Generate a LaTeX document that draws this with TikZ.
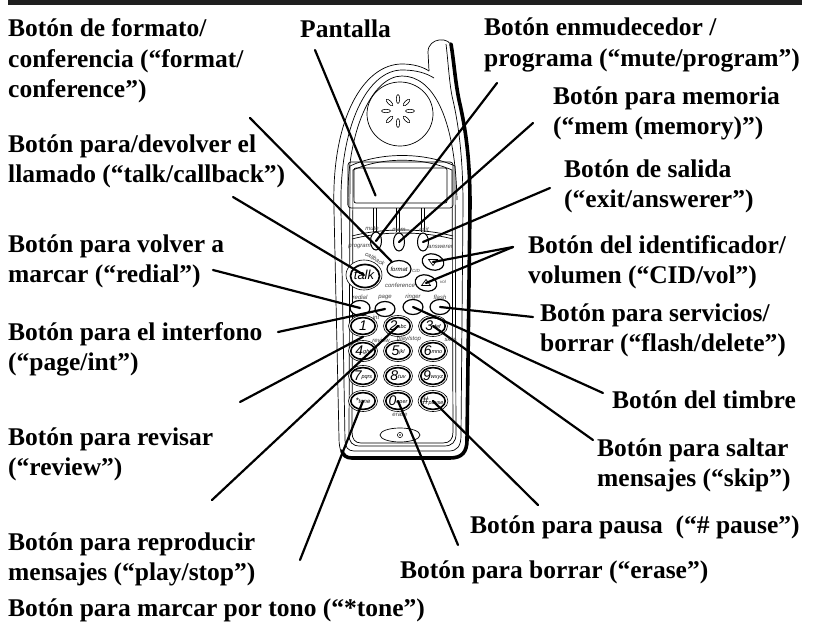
\documentclass[tikz,border=0pt]{standalone}
\usepackage{fontspec}
\setmainfont{Liberation Serif}
\newfontfamily\phonefont{Liberation Sans}
\usetikzlibrary{shapes.geometric,calc}

% multi-line callout text, baseline at the first line
\newcommand\lbltext[1]{\begin{tabular}[t]{@{}l@{}}#1\end{tabular}}
% small italic print on the handset
\newcommand\phsmall{\phonefont\itshape\fontsize{6}{7}\selectfont}
% keypad face: big digit followed by small letters
\newcommand\keyface[2]{{\fontsize{14}{14}\selectfont #1}{\fontsize{5.5}{6}\selectfont\raisebox{2.5pt}{#2}}}

\tikzset{
  lbl/.style={anchor=base west, inner sep=0pt, font=\bfseries\fontsize{25.5}{30.5}\selectfont},
  leader/.style={line width=2.2pt, line cap=round},
  body/.style={line width=0.7pt},
  rimline/.style={line width=3.6pt, line cap=round, line join=round},
  smalltext/.style={inner sep=0pt, font=\phsmall, text=black!75},
  microtext/.style={inner sep=0pt, font=\phonefont\itshape\fontsize{4.5}{5}\selectfont, text=black!75},
  softkey/.style={ellipse, draw, line width=1pt, fill=white, minimum width=11pt, minimum height=18pt, inner sep=0pt},
  smallbtn/.style={ellipse, draw, line width=1.2pt, fill=white, minimum width=20pt, minimum height=15pt, inner sep=0pt},
  cidbtn/.style={ellipse, draw, line width=1.2pt, fill=white, minimum width=22pt, minimum height=16pt, inner sep=0pt},
  fmtkey/.style={ellipse, draw, line width=1.2pt, fill=white, minimum width=24pt, minimum height=17pt, inner sep=0pt, font=\phsmall},
  talkkey/.style={ellipse, draw, line width=0.6pt, fill=white, minimum width=36pt, minimum height=30pt, inner sep=0pt,
    font=\phonefont\itshape\fontsize{13}{13}\selectfont,
    path picture={\draw[line width=1.7pt] ([shift={(1pt,-1pt)}]path picture bounding box.center) ellipse [x radius=14.5pt, y radius=11.5pt];}},
  keybtn/.style={ellipse, draw, line width=0.6pt, fill=white, minimum width=29pt, minimum height=21pt, inner sep=0pt,
    font=\phonefont\itshape,
    path picture={\draw[line width=1.6pt] (path picture bounding box.center) ellipse [x radius=12.2pt, y radius=8.4pt];}},
}

\begin{document}
\begin{tikzpicture}[x=1pt,y=-1pt]
\useasboundingbox (0,0) rectangle (814,626);

% heading rule
\fill[black!88] (8,0) rectangle (802,5);

% ---------- handset ----------
\begin{scope}[body]
  % outer contour, left side and head
  \draw (349,458) .. controls (342,457) and (339,450) .. (339,438) -- (334,210)
        .. controls (331,118) and (364,64) .. (402,64) .. controls (414,64) and (423,67) .. (429,71);
  % antenna
  \draw (429,71) -- (428,52) .. controls (428,37) and (451,36) .. (452,48);
  % second contour
  \draw (446,44) .. controls (448,60) and (449,80) .. (452,96) .. controls (459,125) and (463,160) .. (463,205)
        -- (461,436) .. controls (461,446) and (457,451) .. (449,451) -- (354,451)
        .. controls (348,451) and (345,447) .. (345,440) -- (341,210)
        .. controls (339,125) and (368,70) .. (402,70) .. controls (416,70) and (426,73) .. (434,78);
  % third head arc
  \draw (348,205) .. controls (346,132) and (372,76) .. (402,76) .. controls (432,76) and (455,115) .. (457,200);
  % face panel (double line)
  \draw (350,166) .. controls (380,152) and (424,152) .. (455,166) -- (456,434)
        .. controls (456,442) and (452,446) .. (444,446) -- (360,446)
        .. controls (352,446) and (349,442) .. (349,434) -- cycle;
  \draw (353,170) .. controls (382,157) and (422,157) .. (452,170) -- (453,432)
        .. controls (453,439) and (450,443) .. (443,443) -- (361,443)
        .. controls (355,443) and (352,439) .. (352,432) -- cycle;
  % band above the keys
  \draw (352,236) .. controls (382,228) and (422,228) .. (453,236);
  \draw (352,239) .. controls (382,231) and (422,231) .. (453,239);
\end{scope}
% heavy rim on the right and at the bottom
\draw[rimline] (451,44) .. controls (454,62) and (455,80) .. (459,100) .. controls (466,130) and (470,160) .. (470,205)
      -- (467,440) .. controls (467,452) and (462,458) .. (450,458) -- (352,458)
      .. controls (346,458) and (343,455) .. (342,451);

% earpiece
\node[ellipse, draw, body, minimum width=66pt, minimum height=64pt, inner sep=0pt] (spk) at (400,114) {};
\foreach \a in {0,45,...,315}{
  \path (398,111) ++(\a:12) coordinate (slot);
  \draw[line width=0.6pt, rotate around={-\a:(slot)}] (slot) ellipse [x radius=4.5pt, y radius=1.7pt];
}

% display
\draw[body, rounded corners=3pt] (348,162) rectangle (453,208);
\node[draw, body, rounded corners=2pt, minimum width=93pt, minimum height=35pt, inner sep=0pt] (screen) at (400.5,185.5) {};
\foreach \x in {375,398,423}{
  \draw[body] (\x-1.5,208) -- (\x-1.5,232);
  \draw[body] (\x+1.5,208) -- (\x+1.5,232);
}

% soft keys
\node[smalltext] at (372,229) {mute};
\node[smalltext] at (399,230) {mem};
\node[smalltext] at (424,229) {exit};
\node[softkey] (soft1) at (376,241) {};
\node[softkey] (soft2) at (399,242) {};
\node[softkey] (soft3) at (423,242) {};
\node[smalltext, anchor=east] at (371,247) {program};
\node[smalltext, anchor=west] at (428,247) {answerer};

% talk / format / caller id
\node[talkkey] (talk) at (364,275) {talk};
\node[smalltext, rotate=-30] at (375,259) {callback};
\node[fmtkey] (fmtbtn) at (399,269) {format};
\node[smalltext] at (400,285) {conference};
\node[cidbtn, rotate=-15] (cidd) at (433,262) {};
\node[cidbtn, rotate=-15] (cidu) at (426,283) {};
\draw[line width=0.7pt] ($(cidd.center)+(-4.5,-2.5)$) -- ++(9,0) -- ++(-4.5,6) -- cycle;
\draw[line width=0.7pt] ($(cidu.center)+(-4.5,2.5)$) -- ++(9,0) -- ++(-4.5,-6) -- cycle;
\node[microtext] at (416,271) {CID};
\node[microtext] at (443,282) {vol};

% function row
\node[smalltext] at (360,297) {redial};
\node[smalltext] at (385,298) {page};
\node[smalltext] at (413,297) {ringer};
\node[smalltext] at (440,297) {flash};
\node[smallbtn] (redial) at (360,308) {};
\node[smallbtn] (page) at (385,309) {};
\node[smallbtn] (ringer) at (413,307) {};
\node[smallbtn] (flash) at (440,307) {};
\node[smalltext] at (376,317) {int};

% keypad
\node[keybtn] (k1) at (363,326) {\keyface{1}{}};
\node[keybtn] (k2) at (398,326) {\keyface{2}{abc}};
\node[keybtn] (k3) at (433,326) {\keyface{3}{def}};
\node[smalltext] at (381,340) {review};
\node[smalltext] at (409,339) {play/stop};
\node[smalltext] at (450,340) {skip};
\node[keybtn] (k4) at (363,351) {\keyface{4}{ghi}};
\node[keybtn] (k5) at (398,351) {\keyface{5}{jkl}};
\node[keybtn] (k6) at (433,351) {\keyface{6}{mno}};
\node[keybtn] (k7) at (363,376) {\keyface{7}{pqrs}};
\node[keybtn] (k8) at (398,376) {\keyface{8}{tuv}};
\node[keybtn] (k9) at (433,376) {\keyface{9}{wxyz}};
\node[keybtn] (kstar) at (363,401) {{\fontsize{8}{8}\selectfont *}{\fontsize{6}{6}\selectfont tone}};
\node[keybtn] (k0) at (398,401) {\keyface{0}{oper}};
\node[keybtn] (khash) at (433,401) {{\fontsize{11}{11}\selectfont\#}{\fontsize{5.5}{6}\selectfont pause}};
\node[smalltext] at (400,415) {erase};

% microphone
\node[ellipse, draw, body, fill=white, minimum width=40pt, minimum height=14pt, inner sep=0pt] (mic) at (400,435) {};
\draw[line width=0.5pt] (mic.center) circle [radius=2.6pt];
\fill (mic.center) circle [radius=0.9pt];

% ---------- callout ends ----------
\coordinate (fmtE)    at (250,118);
\coordinate (pantE)   at (315,50);
\coordinate (muteE)   at (497,83);
\coordinate (memE)    at (533,123);
\coordinate (exitE)   at (550,188);
\coordinate (cidE)    at (513,247);
\coordinate (flashE)  at (533,317);
\coordinate (ringE)   at (603,393);
\coordinate (skipE)   at (593,440);
\coordinate (pauseE)  at (538,505);
\coordinate (eraseE)  at (458,545);
\coordinate (toneE)   at (300,560);
\coordinate (talkE)   at (233,197);
\coordinate (redialE) at (213,270);
\coordinate (pageE)   at (278,332);
\coordinate (reviewE) at (240,402);
\coordinate (playE)   at (212,500);

\draw[leader] (fmtE) -- (fmtbtn);
\draw[leader] (pantE) -- ($(screen.center)+(-25,10)$);
\draw[leader] (muteE) -- (soft1.center);
\draw[leader] (memE) -- (soft2.center);
\draw[leader] (exitE) -- (soft3.center);
\draw[leader] (cidE) -- (cidd.center);
\draw[leader] (cidE) -- (cidu.center);
\draw[leader] (flashE) -- (flash.center);
\draw[leader] (ringE) -- (ringer.center);
\draw[leader] (skipE) -- (k3.center);
\draw[leader] (pauseE) -- (khash.center);
\draw[leader] (eraseE) -- (k0.center);
\draw[leader] (toneE) -- (kstar.center);
\draw[leader] (talkE) -- (talk.center);
\draw[leader] (redialE) -- (redial.center);
\draw[leader] (pageE) -- (page.center);
\draw[leader] (reviewE) -- (k1.south);
\draw[leader] (playE) -- (k2.center);

% ---------- callouts ----------
\node[lbl] (lfmt)    at (8,37)    {\lbltext{Botón de formato/\\conferencia (“format/\\conference”)}};
\node[lbl] (lpant)   at (300,38)  {Pantalla};
\node[lbl] (lmute)   at (484,36)  {\lbltext{Botón enmudecedor /\\programa (“mute/program”)}};
\node[lbl] (lmem)    at (553,104) {\lbltext{Botón para memoria\\(“mem (memory)”)}};
\node[lbl] (lexit)   at (564,177) {\lbltext{Botón de salida\\(“exit/answerer”)}};
\node[lbl] (lcid)    at (528,253) {\lbltext{Botón del identificador/\\volumen (“CID/vol”)}};
\node[lbl] (lflash)  at (540,321) {\lbltext{Botón para servicios/\\borrar (“flash/delete”)}};
\node[lbl] (lring)   at (612,408) {Botón del timbre};
\node[lbl] (lskip)   at (597,456) {\lbltext{Botón para saltar\\mensajes (“skip”)}};
\node[lbl] (lpause)  at (470,533) {Botón para pausa\ \ (“\# pause”)};
\node[lbl] (lerase)  at (400,578) {Botón para borrar (“erase”)};
\node[lbl] (ltone)   at (8,616)   {Botón para marcar por tono (“*tone”)};
\node[lbl] (ltalk)   at (8,152)   {\lbltext{Botón para/devolver el\\llamado (“talk/callback”)}};
\node[lbl] (lredial) at (8,252)   {\lbltext{Botón para volver a\\marcar (“redial”)}};
\node[lbl] (lpage)   at (8,340)   {\lbltext{Botón para el interfono\\(“page/int”)}};
\node[lbl] (lreview) at (8,445)   {\lbltext{Botón para revisar\\(“review”)}};
\node[lbl] (lplay)   at (8,550)   {\lbltext{Botón para reproducir\\mensajes (“play/stop”)}};
\end{tikzpicture}
\end{document}
